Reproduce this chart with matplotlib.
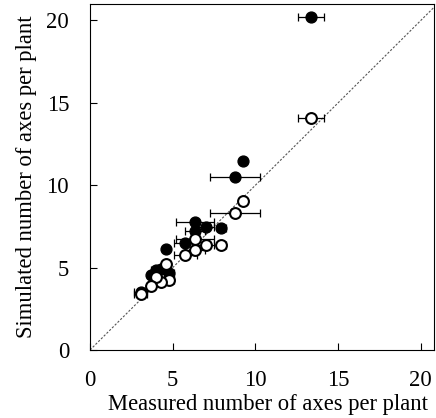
import matplotlib
matplotlib.use("Agg")
import matplotlib.pyplot as plt

plt.rcParams['font.family'] = ['Liberation Serif', 'DejaVu Serif']

# Measured mean number of axes per plant and its standard deviation
measured = [13.36, 8.75, 9.25, 7.95, 7.00, 6.35, 6.35, 5.75, 4.60, 4.75, 4.27, 4.00, 3.70, 3.07]
measured_sd = [0.80, 1.52, 0.00, 0.30, 0.50, 1.15, 0.60, 0.70, 0.10, 0.30, 0.20, 0.30, 0.20, 0.40]

# Simulated values for the two model versions
sim_filled = [20.20, 10.47, 11.50, 7.40, 7.47, 7.75, 7.25, 6.50, 6.10, 4.70, 4.90, 4.85, 4.55, 3.50]
sim_open = [14.10, 8.34, 9.05, 6.40, 6.35, 6.75, 6.05, 5.75, 5.25, 4.25, 4.15, 4.45, 3.90, 3.39]

ticks = [0, 5, 10, 15, 20]

fig = plt.figure(figsize=(4.36, 4.18), dpi=100)
ax = fig.add_axes([90/436, (418-350)/418, (434-90)/436, (350-4)/418])

ax.axline((0, 0), slope=1, color='#555555', lw=0.8, ls=(0, (2, 1.5)), zorder=1)

err_kw = dict(fmt='none', ecolor='black', elinewidth=0.9, capsize=3, capthick=0.9, zorder=2)
ax.errorbar(measured, sim_filled, xerr=measured_sd, **err_kw)
ax.errorbar(measured, sim_open, xerr=measured_sd, **err_kw)

ax.plot(measured, sim_filled, 'o', color='black', ms=7.8, zorder=3)
ax.plot(measured, sim_open, 'o', mfc='white', mec='black', mew=1.5, ms=7.8, zorder=4)

ax.set_xlim(0, 20.8)
ax.set_ylim(0, 21)
ax.set_xticks(ticks)
ax.set_yticks(ticks)
ax.tick_params(direction='in', length=5, width=0.8, labelsize=16.3)
ax.tick_params(axis='x', pad=14.5)
ax.tick_params(axis='y', pad=15)
for s in ax.spines.values():
    s.set_linewidth(0.8)

ax.set_xlabel('Measured number of axes per plant', fontsize=16.3)
ax.xaxis.set_label_coords(0.516, -0.127, transform=ax.transAxes)
ax.xaxis.label.set_va('top')
ax.set_ylabel('Simulated number of axes per plant', fontsize=16.3, labelpad=7)

fig.savefig('out.png', dpi=100)
